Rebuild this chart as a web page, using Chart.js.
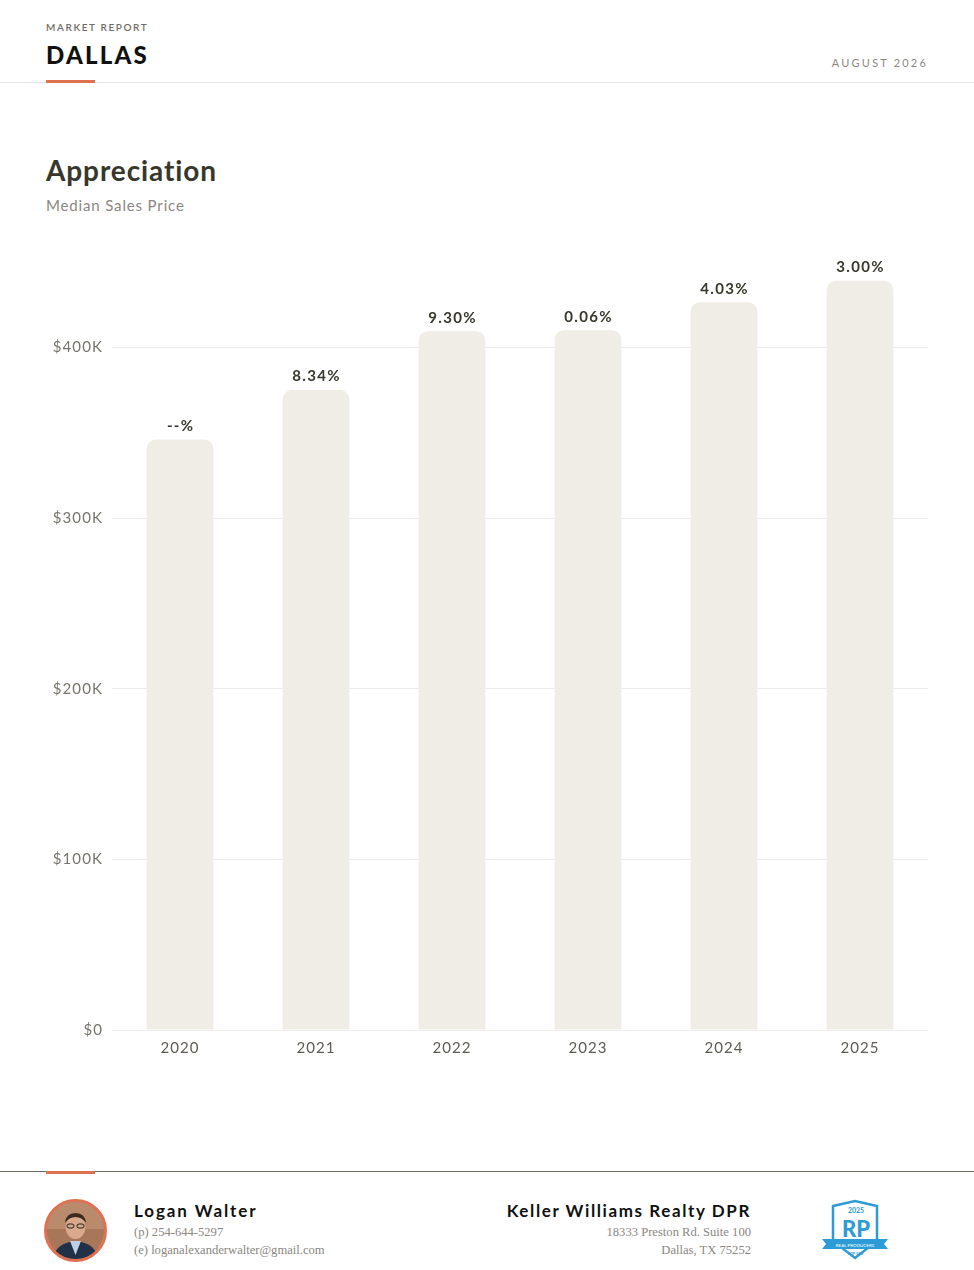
<!DOCTYPE html>
<html>
<head>
<meta charset="utf-8">
<script src="https://cdn.jsdelivr.net/npm/chart.js@4"></script>
<style>
  html,body{margin:0;padding:0;background:#fff;}
  body{width:974px;height:1270px;position:relative;overflow:hidden;font-family:Lato,"Noto Sans",sans-serif;}
  .abs{position:absolute;}
  #mr{left:46px;top:21px;font-size:10px;letter-spacing:1.6px;color:#6f6d66;font-weight:600;}
  #city{left:46px;top:40px;font-size:24px;font-weight:900;letter-spacing:2.2px;color:#111;}
  #date{right:46px;top:56px;font-size:11px;letter-spacing:2.2px;color:#8a877f;}
  #hline{left:0;top:82px;width:974px;height:1px;background:#e6e6e4;}
  #hbar{left:46px;top:80px;width:49px;height:3px;background:#de7150;}
  #title{left:46px;top:153px;font-size:28px;font-weight:700;color:#38372c;letter-spacing:0.9px;}
  #sub{left:46px;top:196px;font-size:15px;color:#8a877f;letter-spacing:0.85px;}
  #chartbox{left:40px;top:227px;width:888px;height:843px;}
  #fline{left:0;top:1171px;width:974px;height:1px;background:#6b6b63;}
  #fbar{left:46px;top:1171px;width:49px;height:3px;background:#de7150;}
  #name{left:134px;top:1200px;font-size:17px;font-weight:700;letter-spacing:1.9px;color:#111;}
  .serif{font-family:"Liberation Serif","DejaVu Serif",serif;font-size:12.6px;color:#8a877f;}
  #ph{left:134px;top:1225px;}
  #em{left:134px;top:1243px;}
  #co{right:223px;top:1200px;font-size:17px;font-weight:700;letter-spacing:1.6px;color:#111;text-align:right;}
  #a1{right:223px;top:1225px;text-align:right;}
  #a2{right:223px;top:1243px;text-align:right;}
  #photo{left:44px;top:1199px;}
  #logo{left:820px;top:1199px;}
</style>
</head>
<body>
<div class="abs" id="mr">MARKET REPORT</div>
<div class="abs" id="city">DALLAS</div>
<div class="abs" id="date">AUGUST 2026</div>
<div class="abs" id="hline"></div>
<div class="abs" id="hbar"></div>
<div class="abs" id="title">Appreciation</div>
<div class="abs" id="sub">Median Sales Price</div>
<div class="abs" id="chartbox"><canvas id="c"></canvas></div>
<div class="abs" id="fline"></div>
<div class="abs" id="fbar"></div>
<svg class="abs" id="photo" width="63" height="63" viewBox="0 0 63 63">
  <defs><clipPath id="cp"><circle cx="31.5" cy="31.5" r="29"/></clipPath></defs>
  <g clip-path="url(#cp)">
    <rect width="63" height="63" fill="#a8775a"/>
    <rect x="0" y="0" width="63" height="30" fill="#b98a6c"/>
    <path d="M8 63 Q10 44 31.5 42 Q53 44 55 63 Z" fill="#223048"/>
    <path d="M26 42 L31.5 56 L37 42 Z" fill="#bcd0e6"/>
    <ellipse cx="31.5" cy="28" rx="10" ry="12" fill="#d9a98a"/>
    <path d="M21 24 Q22 14 31.5 14 Q41 14 42 24 Q38 18 31.5 18 Q25 18 21 24Z" fill="#3a2a20"/>
    <rect x="23" y="25" width="7" height="4" rx="2" fill="none" stroke="#222" stroke-width="1"/>
    <rect x="33" y="25" width="7" height="4" rx="2" fill="none" stroke="#222" stroke-width="1"/>
  </g>
  <circle cx="31.5" cy="31.5" r="30" fill="none" stroke="#de7150" stroke-width="3"/>
</svg>
<div class="abs" id="name">Logan Walter</div>
<div class="abs serif" id="ph">(p) 254-644-5297</div>
<div class="abs serif" id="em">(e) loganalexanderwalter@gmail.com</div>
<div class="abs" id="co">Keller Williams Realty DPR</div>
<div class="abs serif" id="a1">18333 Preston Rd. Suite 100</div>
<div class="abs serif" id="a2">Dallas, TX 75252</div>
<svg class="abs" id="logo" width="70" height="62" viewBox="0 0 70 62">
  <path d="M13 7 L35 2 L57 7 L57 42 L35 59 L13 42 Z" fill="#fff" stroke="#2c9bd6" stroke-width="2.5"/>
  <text x="36" y="14" font-size="7" font-weight="700" fill="#2c9bd6" text-anchor="middle" font-family="Lato,sans-serif">2025</text>
  <text x="36" y="38" font-size="22" font-weight="900" fill="#2c9bd6" text-anchor="middle" font-family="Lato,sans-serif">RP</text>
  <path d="M2 40 L68 40 L64 45 L68 50 L2 50 L6 45 Z" fill="#2c9bd6"/>
  <text x="35" y="47.5" font-size="4.5" fill="#fff" text-anchor="middle" font-family="Lato,sans-serif">REAL PRODUCERS</text>
  <text x="35" y="56" font-size="4" font-weight="700" fill="#2c9bd6" text-anchor="middle" font-family="Lato,sans-serif">TOP 500</text>
</svg>

<script>
const years = ["2020","2021","2022","2023","2024","2025"];
const medianPrices = [346000, 375000, 409500, 410000, 426500, 439000];
const changeLabels = ["--%","8.34%","9.30%","0.06%","4.03%","3.00%"];
const yTickValues = [0, 100000, 200000, 300000, 400000];

const spacingPlugin = {
  id: 'spacing',
  beforeInit(chart) { if ('letterSpacing' in chart.ctx) chart.ctx.letterSpacing = '1.1px'; },
  beforeDraw(chart) { if ('letterSpacing' in chart.ctx) chart.ctx.letterSpacing = '1.1px'; }
};

const labelPlugin = {
  id: 'barLabels',
  afterDatasetsDraw(chart) {
    const ctx = chart.ctx;
    const meta = chart.getDatasetMeta(0);
    ctx.save();
    ctx.font = '700 15px Lato, "Noto Sans", sans-serif';
    ctx.fillStyle = '#38372c';
    ctx.textAlign = 'center';
    ctx.textBaseline = 'bottom';
    if ('letterSpacing' in ctx) ctx.letterSpacing = '1.3px';
    meta.data.forEach((bar, i) => {
      ctx.fillText(changeLabels[i], bar.x + 0.6, bar.y - 6);
    });
    ctx.restore();
  }
};

new Chart(document.getElementById('c'), {
  type: 'bar',
  data: {
    labels: years,
    datasets: [{
      data: medianPrices,
      backgroundColor: '#f0ede6',
      borderRadius: {topLeft: 9, topRight: 9, bottomLeft: 0, bottomRight: 0},
      borderSkipped: 'bottom',
      barPercentage: 0.49,
      categoryPercentage: 1.0
    }]
  },
  options: {
    responsive: true,
    maintainAspectRatio: false,
    animation: false,
    layout: {padding: 0},
    plugins: {legend: {display: false}, tooltip: {enabled: false}},
    scales: {
      x: {
        grid: {display: false, drawTicks: false},
        border: {display: false},
        ticks: {color: '#5d5b53', font: {size: 15, family: 'Lato, "Noto Sans", sans-serif'}, padding: 9},
        afterFit(s) { s.height = 40; }
      },
      y: {
        min: 0,
        max: 460000,
        afterBuildTicks(s) { s.ticks = yTickValues.map(v => ({value: v})); },
        grid: {color: '#ececea', drawTicks: false, lineWidth: 1},
        border: {display: false},
        ticks: {
          color: '#77746b',
          font: {size: 15, family: 'Lato, "Noto Sans", sans-serif'},
          padding: 9,
          callback: v => v === 0 ? '$0' : '$' + (v/1000) + 'K'
        },
        afterFit(s) { s.width = 72; }
      }
    }
  },
  plugins: [spacingPlugin, labelPlugin]
});
</script>
</body>
</html>
